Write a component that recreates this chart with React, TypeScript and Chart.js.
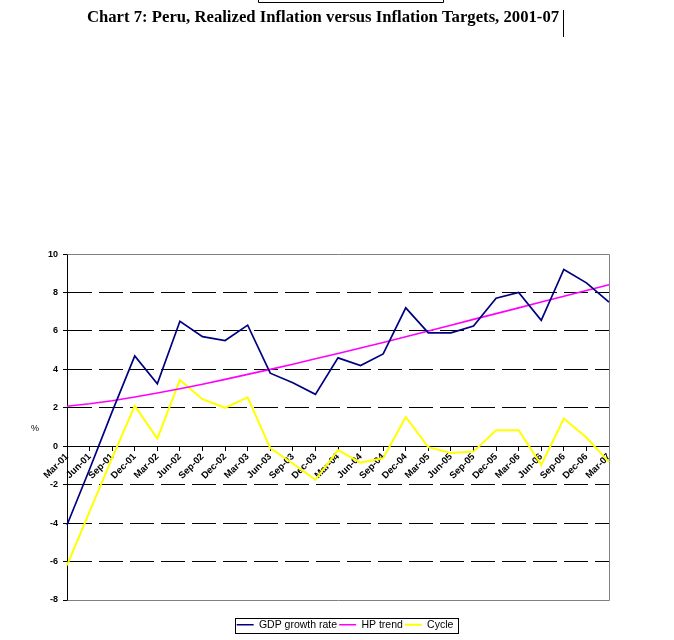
import { useEffect, useRef } from "react"
import { Chart, registerables, type ChartConfiguration, type Plugin } from "chart.js"

Chart.register(...registerables)

const quarters = [
  "Mar-01", "Jun-01", "Sep-01", "Dec-01",
  "Mar-02", "Jun-02", "Sep-02", "Dec-02",
  "Mar-03", "Jun-03", "Sep-03", "Dec-03",
  "Mar-04", "Jun-04", "Sep-04", "Dec-04",
  "Mar-05", "Jun-05", "Sep-05", "Dec-05",
  "Mar-06", "Jun-06", "Sep-06", "Dec-06",
  "Mar-07",
]

const gdpGrowth = [
  -4.1, -1.2, 1.8, 4.7, 3.25, 6.5, 5.7, 5.5, 6.3, 3.8, 3.3, 2.7, 4.6,
  4.2, 4.8, 7.2, 5.9, 5.9, 6.25, 7.7, 8.0, 6.55, 9.2, 8.5, 7.5,
]

const hpTrend = [
  2.08, 2.21, 2.37, 2.56, 2.77, 2.99, 3.23, 3.48, 3.74, 4.0, 4.27, 4.55, 4.83,
  5.11, 5.4, 5.7, 6.0, 6.3, 6.6, 6.9, 7.2, 7.5, 7.8, 8.1, 8.4,
]

const cycle = [
  -6.2, -3.4, -0.6, 2.1, 0.4, 3.45, 2.45, 2.0, 2.55, -0.1, -0.9, -1.75, -0.2,
  -0.85, -0.62, 1.52, -0.05, -0.35, -0.28, 0.83, 0.83, -0.97, 1.44, 0.45, -0.83,
]

const yTickValues = [-8, -6, -4, -2, 0, 2, 4, 6, 8, 10]

const sans = '"Liberation Sans", Arial, sans-serif'
const serif = '"Liberation Serif", "Times New Roman", serif'

// grey frame on top, right and bottom of the plot area (left one is the y axis)
const plotFrame: Plugin<"line"> = {
  id: "plotFrame",
  beforeDatasetsDraw(chart) {
    const { ctx, chartArea: a } = chart
    const l = Math.round(a.left) + 0.5
    const r = Math.round(a.right) + 0.5
    const t = Math.round(a.top) + 0.5
    const b = Math.round(a.bottom) + 0.5
    ctx.save()
    ctx.strokeStyle = "#808080"
    ctx.lineWidth = 1
    ctx.beginPath()
    ctx.moveTo(l, t)
    ctx.lineTo(r, t)
    ctx.lineTo(r, b)
    ctx.lineTo(l, b)
    ctx.stroke()
    ctx.restore()
  },
}

const extras: Plugin<"line"> = {
  id: "extras",
  // nudge the legend a little right of the plot centre, like the original
  afterUpdate(chart) {
    const lg = chart.legend
    if (!lg) return
    const shift = 7
    lg.left += shift
    lg.right += shift
    lg.legendHitBoxes.forEach((h) => {
      h.left += shift
    })
  },
  afterDraw(chart) {
    const { ctx, chartArea: a } = chart
    ctx.save()

    // unrotated "%" axis title
    ctx.font = `9px ${sans}`
    ctx.fillStyle = "#000"
    ctx.textAlign = "center"
    ctx.textBaseline = "middle"
    ctx.fillText("%", a.left - 32, (a.top + a.bottom) / 2 + 1)

    // box round the legend
    const boxes = chart.legend?.legendHitBoxes ?? []
    if (boxes.length) {
      const left = Math.min(...boxes.map((h) => h.left)) - 2
      const right = Math.max(...boxes.map((h) => h.left + h.width)) + 4
      const top = boxes[0].top - 2
      const bottom = boxes[0].top + boxes[0].height + 2
      ctx.strokeStyle = "#000"
      ctx.lineWidth = 1
      ctx.strokeRect(Math.round(left) + 0.5, Math.round(top) + 0.5, Math.round(right - left), Math.round(bottom - top))
    }

    // leftovers from the source page: a box edge and a text cursor
    ctx.strokeStyle = "#000"
    ctx.beginPath()
    ctx.moveTo(258.5, 0)
    ctx.lineTo(258.5, 2.5)
    ctx.lineTo(443.5, 2.5)
    ctx.lineTo(443.5, 0)
    ctx.moveTo(563.5, 10)
    ctx.lineTo(563.5, 37)
    ctx.stroke()
    ctx.restore()
  },
}

export default function App() {
  const chartRef = useRef<HTMLCanvasElement>(null)
  const chartInstance = useRef<Chart | null>(null)

  useEffect(() => {
    if (!chartRef.current) return
    const ctx = chartRef.current.getContext("2d")
    if (!ctx) return

    if (chartInstance.current) {
      chartInstance.current.destroy()
    }

    const config: ChartConfiguration<"line"> = {
      type: "line",
      data: {
        labels: quarters,
        datasets: [
          {
            label: "GDP growth rate",
            data: gdpGrowth,
            borderColor: "#000080",
            backgroundColor: "#000080",
            borderWidth: 1.7,
            pointRadius: 0,
            tension: 0,
          },
          {
            label: "HP trend",
            data: hpTrend,
            borderColor: "#FF00FF",
            backgroundColor: "#FF00FF",
            borderWidth: 1.6,
            pointRadius: 0,
            tension: 0,
          },
          {
            label: "Cycle",
            data: cycle,
            borderColor: "#FFFF00",
            backgroundColor: "#FFFF00",
            borderWidth: 2,
            pointRadius: 0,
            tension: 0,
          },
        ],
      },
      options: {
        responsive: false,
        animation: false,
        layout: {
          padding: { left: 37, right: 65, top: 0, bottom: 0 },
        },
        scales: {
          x: {
            type: "category",
            position: { y: 0 },
            offset: false,
            grid: {
              display: true,
              drawOnChartArea: false,
              drawTicks: true,
              tickLength: 4,
              color: "#000",
            },
            border: { display: true, color: "#000", width: 1 },
            ticks: {
              autoSkip: false,
              minRotation: 45,
              maxRotation: 45,
              padding: 1,
              color: "#000",
              font: { family: sans, size: 9.5, weight: "bold" },
            },
          },
          spacer: {
            type: "category",
            position: "bottom",
            grid: { display: false },
            border: { display: false },
            ticks: { display: false },
            afterFit: (s) => {
              s.height = 17.5
            },
          },
          y: {
            type: "linear",
            position: "left",
            min: -8,
            max: 10,
            afterBuildTicks: (s) => {
              s.ticks = yTickValues.map((value) => ({ value }))
            },
            afterFit: (s) => {
              s.width = 30
            },
            grid: {
              color: (c) => ([0, 10, -8].includes(c.tick?.value) ? "rgba(0,0,0,0)" : "#000"),
              tickColor: "#000",
              tickLength: 4,
              lineWidth: 1,
            },
            border: { display: true, color: "#000", width: 1, dash: [24, 7] },
            ticks: {
              padding: 5,
              color: "#000",
              font: { family: sans, size: 9, weight: "bold" },
            },
          },
        },
        plugins: {
          title: {
            display: true,
            text: "Chart 7: Peru, Realized Inflation versus Inflation Targets, 2001-07",
            color: "#000",
            font: { family: serif, size: 16.7, weight: "bold" },
            padding: { top: 8, bottom: 226 },
          },
          legend: {
            display: true,
            position: "bottom",
            fullSize: false,
            labels: {
              usePointStyle: true,
              pointStyle: "line",
              pointStyleWidth: 17,
              padding: 2,
              color: "#000",
              font: { family: sans, size: 10.5 },
            },
          },
          tooltip: { enabled: false },
        },
      },
      plugins: [plotFrame, extras],
    }

    chartInstance.current = new Chart(ctx, config)

    return () => {
      if (chartInstance.current) {
        chartInstance.current.destroy()
        chartInstance.current = null
      }
    }
  }, [])

  return (
    <div style={{ position: "absolute", left: 0, top: 0, width: 674, height: 640, background: "#fff" }}>
      <canvas ref={chartRef} width={674} height={640} />
    </div>
  )
}
